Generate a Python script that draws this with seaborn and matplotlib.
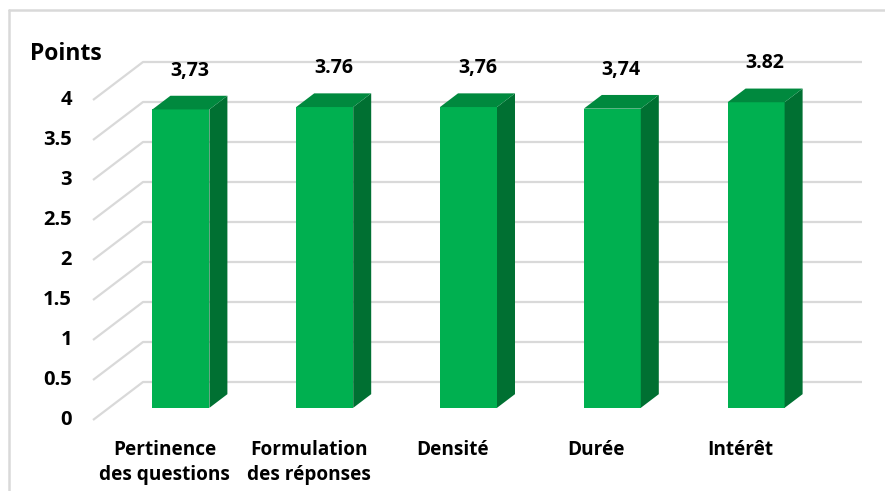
import numpy as np
import matplotlib
matplotlib.use('Agg')
import matplotlib.pyplot as plt
from matplotlib.patches import Polygon
import seaborn as sns

# Data
categories = ['Pertinence\ndes questions', 'Formulation\ndes réponses', 'Densité', 'Durée', 'Intérêt']
scores = [3.73, 3.76, 3.76, 3.74, 3.82]
score_labels = ['3,73', '3.76', '3,76', '3,74', '3.82']
y_ticks = [0, 0.5, 1, 1.5, 2, 2.5, 3, 3.5, 4]
y_tick_labels = ['0', '0.5', '1', '1.5', '2', '2.5', '3', '3.5', '4']

sns.set_theme(style='white')
plt.rcParams['font.family'] = ['Open Sans', 'DejaVu Sans']

# Colours
front_col = '#00B050'
top_col = '#00893E'
side_col = '#007032'
grid_col = '#D9D9D9'

W, H = 885, 491
fig = plt.figure(figsize=(W / 100, H / 100), dpi=100)
ax = fig.add_axes([0, 0, 1, 1])

# pixel geometry of the pseudo-3D layout
cat_px = 143.8      # width of one category (px)
unit_px = 80.0      # px per point on the value axis
x0_px, y0_px = 93, 420   # front-left corner of the floor
DX = 50 / cat_px         # full depth offset (data units)
DY = 38 / unit_px
d_front, d_back = 0.32, 0.68
bar_w = 57 / cat_px

df = {'cat': categories, 'score': scores}
sns.barplot(x='cat', y='score', data=df, order=categories, color=front_col,
            width=bar_w, saturation=1, ax=ax, zorder=3, edgecolor='none')

left = -0.5
right = left + len(categories)

# gridlines (left wall + back wall)
for t, lab in zip(y_ticks, y_tick_labels):
    ax.plot([left, left + DX, right + DX], [t, t + DY, t + DY],
            color=grid_col, lw=1.6, zorder=1, solid_capstyle='butt')
    ax.text(left - 21 / cat_px, t, lab, ha='right', va='center',
            fontsize=14.5, fontweight='bold', color='black')

# turn the flat bars into boxes
fx, fy = d_front * DX, d_front * DY
sx, sy = (d_back - d_front) * DX, (d_back - d_front) * DY
for i, p in enumerate(ax.patches[:len(categories)]):
    p.set_x(p.get_x() + fx)
    p.set_y(fy)
    xl = p.get_x()
    xr = xl + p.get_width()
    yb = fy
    yt = fy + p.get_height()
    ax.add_patch(Polygon([(xr, yb), (xr + sx, yb + sy), (xr + sx, yt + sy), (xr, yt)],
                         closed=True, facecolor=side_col, edgecolor='none', zorder=3))
    ax.add_patch(Polygon([(xl, yt), (xr, yt), (xr + sx, yt + sy), (xl + sx, yt + sy)],
                         closed=True, facecolor=top_col, edgecolor='none', zorder=3))
    ax.text(i + 0.5 * DX, yt + sy / 2 + 0.40, score_labels[i], ha='center', va='center',
            fontsize=14, fontweight='bold', color='black')

ax.set_xlim(left - x0_px / cat_px, left + (W - x0_px) / cat_px)
ax.set_ylim(-(H - y0_px) / unit_px, y0_px / unit_px)
ax.set_xticks([])
ax.set_yticks([])
ax.set_xlabel('')
ax.set_ylabel('')
for s in ax.spines.values():
    s.set_visible(False)

# category labels
for i, c in enumerate(categories):
    ax.text(i, (y0_px - 440) / unit_px, c, ha='center', va='top', fontsize=13.7,
            fontweight='bold', color='black', linespacing=1.35)

# axis title
ax.text(left - 27 / cat_px, (y0_px - 54) / unit_px, 'Points', ha='center', va='center',
        fontsize=16.5, fontweight='bold', color='black')

# outer frame (top and left only)
fig.add_artist(plt.Line2D([9 / W, 9 / W], [0, 1 - 10 / H], color=grid_col, lw=1.8,
                          transform=fig.transFigure))
fig.add_artist(plt.Line2D([9 / W, 1], [1 - 10 / H, 1 - 10 / H], color=grid_col, lw=1.8,
                          transform=fig.transFigure))

fig.savefig('out.png', dpi=100)
